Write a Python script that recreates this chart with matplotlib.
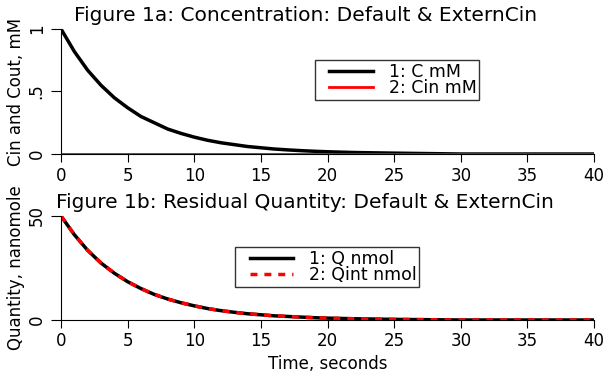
import matplotlib
matplotlib.use("Agg")
import matplotlib.pyplot as plt
from matplotlib.legend_handler import HandlerLine2D

# values
t = [0, 1, 2, 3, 4, 5, 6, 7, 8, 9, 10, 11, 12, 13, 14, 15, 16, 17, 18, 19, 20, 22, 25, 30, 35, 40]
c_mm = [1.0, 0.82, 0.67, 0.55, 0.45, 0.37, 0.30, 0.25, 0.20, 0.165, 0.135, 0.11, 0.09, 0.075,
        0.06, 0.05, 0.04, 0.033, 0.027, 0.022, 0.018, 0.012, 0.007, 0.0, 0.0, 0.0]
cin_mm = [0.0] * len(t)
q_nmol = [50.0, 41.0, 33.5, 27.4, 22.5, 18.4, 15.1, 12.3, 10.1, 8.3, 6.8, 5.5, 4.5, 3.7,
          3.0, 2.5, 2.0, 1.7, 1.4, 1.1, 0.9, 0.6, 0.3, 0.0, 0.0, 0.0]
qint_nmol = q_nmol

xticks = [0, 5, 10, 15, 20, 25, 30, 35, 40]

plt.rcParams['font.family'] = 'DejaVu Sans'
fig = plt.figure(figsize=(6.15, 3.74), dpi=100)
ax1 = fig.add_axes([0.0992, 0.5882, 0.8667, 0.3343])
ax2 = fig.add_axes([0.0992, 0.1444, 0.8667, 0.2781])


def style(ax):
    ax.spines['top'].set_visible(False)
    ax.spines['right'].set_visible(False)
    ax.set_xlim(0, 40)
    ax.set_xticks(xticks)
    ax.tick_params(direction='out', length=6, pad=3, labelsize=12)
    ax.tick_params(axis='y', length=7, pad=4)
    for lab in ax.get_yticklabels():
        lab.set_rotation(90)
        lab.set_va('center')


def add_legend(ax, anchor):
    # xpad pushes the line samples right, like the wide left margin in the original
    hmap = {l: HandlerLine2D(xpad=0.7) for l in ax.get_lines()}
    leg = ax.legend(loc='upper left', bbox_to_anchor=anchor, fontsize=12.5, frameon=True,
                    fancybox=False, edgecolor='black', borderpad=0.15, labelspacing=-0.1,
                    handlelength=3.2, handletextpad=0.9, borderaxespad=0, handler_map=hmap)
    leg.get_frame().set_linewidth(1)
    return leg


ax1.plot(t, c_mm, color='black', lw=2.5, label='1: C mM')
ax1.plot(t, cin_mm, color='red', lw=2, label='2: Cin mM')
ax1.set_ylim(0, 1)
ax1.set_yticks([0, 0.5, 1])
ax1.set_yticklabels(['0', '.5', '1'])
style(ax1)
ax1.set_ylabel('Cin and Cout, mM', fontsize=12, labelpad=2)
ax1.set_title('Figure 1a: Concentration: Default & ExternCin', fontsize=14.5, x=0.458, pad=6)
add_legend(ax1, (0.476, 0.75))

ax2.plot(t, q_nmol, color='black', lw=2.5, label='1: Q nmol')
ax2.plot(t, qint_nmol, color='red', lw=2.5, ls=(0, (2, 2)), label='2: Qint nmol')
ax2.set_ylim(0, 50)
ax2.set_yticks([0, 50])
style(ax2)
ax2.set_ylabel('Quantity, nanomole', fontsize=12, labelpad=2)
ax2.set_xlabel('Time, seconds', fontsize=12, labelpad=3)
ax2.set_title('Figure 1b: Residual Quantity: Default & ExternCin', fontsize=14.5, x=0.458, pad=6)
add_legend(ax2, (0.326, 0.70))

fig.savefig('out.png', dpi=100)
